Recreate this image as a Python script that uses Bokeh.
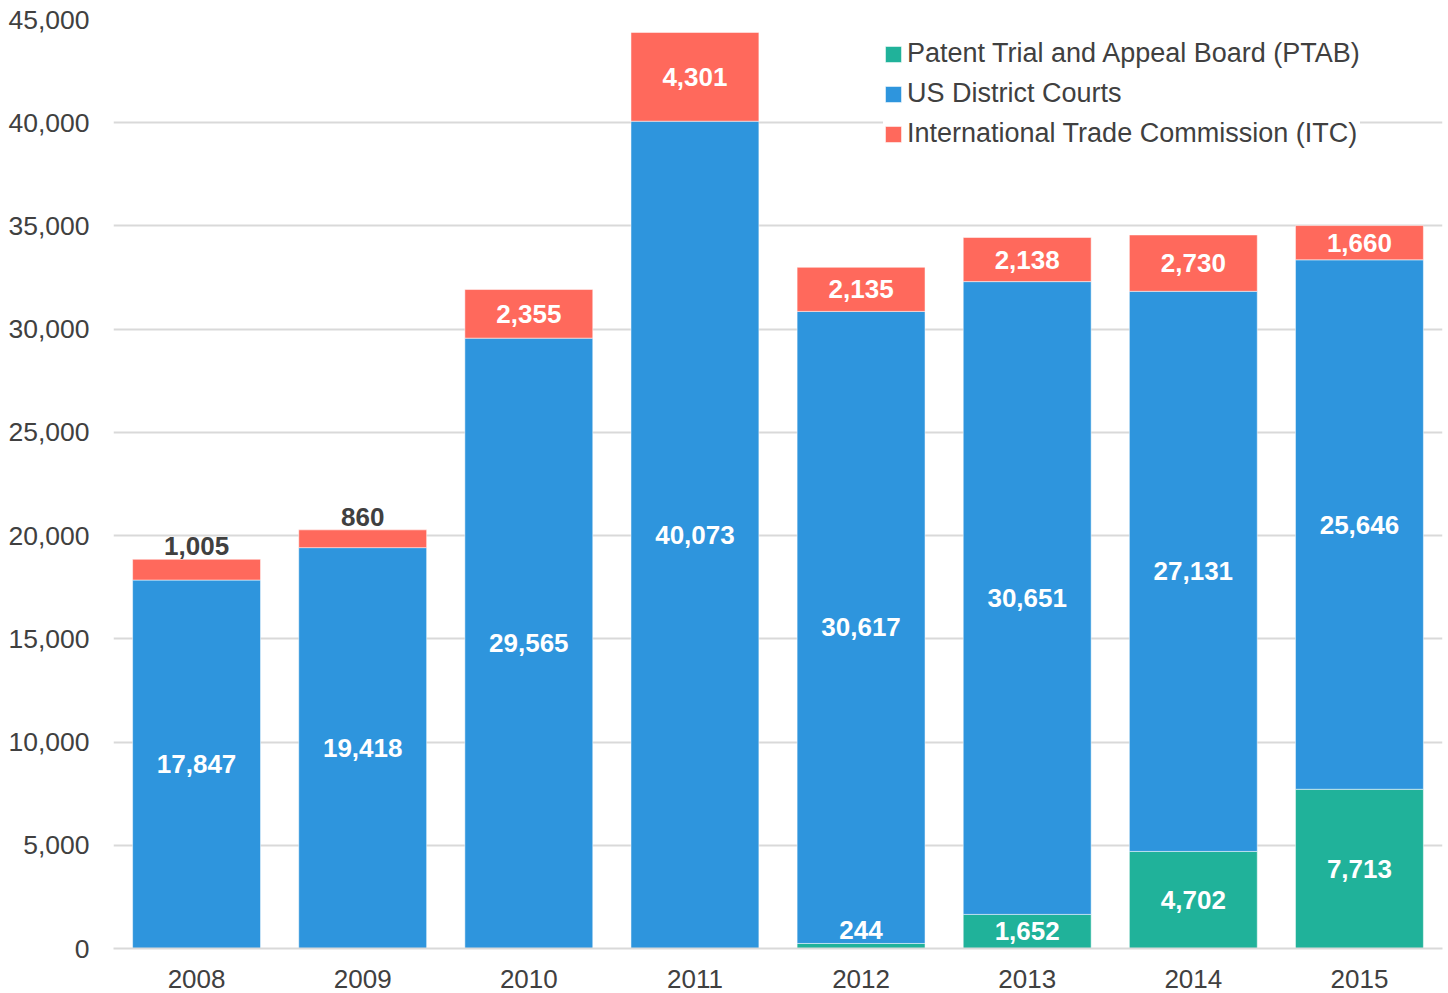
from bokeh.plotting import figure
from bokeh.models import (ColumnDataSource, FactorRange, Range1d, FixedTicker,
                          NumeralTickFormatter, Legend, LegendItem)
from bokeh.core.properties import value
from bokeh.embed import file_html
from bokeh.resources import INLINE

years = ["2008", "2009", "2010", "2011", "2012", "2013", "2014", "2015"]
ptab = [0, 0, 0, 0, 244, 1652, 4702, 7713]
district = [17847, 19418, 29565, 40073, 30617, 30651, 27131, 25646]
itc = [1005, 860, 2355, 4301, 2135, 2138, 2730, 1660]

series_names = ["Patent Trial and Appeal Board (PTAB)", "US District Courts",
                "International Trade Commission (ITC)"]
colors = ["#20B29A", "#2E95DD", "#FF695C"]
y_ticks = [0, 5000, 10000, 15000, 20000, 25000, 30000, 35000, 40000, 45000]

FONT = "Liberation Sans"
TEXT_DARK = "#404040"

src = ColumnDataSource(dict(year=years, ptab=ptab, district=district, itc=itc))

p = figure(x_range=FactorRange(*years, range_padding=0), y_range=Range1d(0, 45000),
           width=1448, height=993, output_backend="svg", toolbar_location=None,
           min_border_left=113, min_border_right=6, min_border_top=19,
           min_border_bottom=45)
p.outline_line_color = None
p.background_fill_color = "white"

rs = p.vbar_stack(["ptab", "district", "itc"], x="year", width=0.77, source=src,
                  color=colors, line_color="white", line_width=1, line_alpha=0.5)

# axes
p.yaxis.ticker = FixedTicker(ticks=y_ticks)
p.yaxis.formatter = NumeralTickFormatter(format="0,0")
p.yaxis.axis_line_color = None
p.yaxis.major_tick_line_color = None
p.yaxis.minor_tick_line_color = None
p.yaxis.major_label_standoff = 18
p.yaxis.major_label_text_font = FONT
p.yaxis.major_label_text_font_size = "26.5px"
p.yaxis.major_label_text_color = TEXT_DARK

p.xaxis.axis_line_color = "#D9D9D9"
p.xaxis.axis_line_width = 2
p.xaxis.major_tick_line_color = None
p.xaxis.minor_tick_line_color = None
p.xaxis.major_label_standoff = 15
p.xaxis.major_label_text_font = FONT
p.xaxis.major_label_text_font_size = "26px"
p.xaxis.major_label_text_color = TEXT_DARK

p.xgrid.grid_line_color = None
p.ygrid.grid_line_color = "#D9D9D9"
p.ygrid.grid_line_width = 2

# data labels
THRESH = 1500
in_x, in_y, in_t = [], [], []
above_x, above_y, above_t, above_c = [], [], [], []
for i, yr in enumerate(years):
    base = 0
    for k, vals in enumerate([ptab, district, itc]):
        v = vals[i]
        if v > 0:
            if v >= THRESH:
                in_x.append(yr); in_y.append(base + v / 2); in_t.append(f"{v:,}")
            else:
                above_x.append(yr); above_y.append(base + v); above_t.append(f"{v:,}")
                above_c.append("white" if k == 0 else TEXT_DARK)
        base += v

p.text(x=in_x, y=in_y, text=in_t, text_align="center", text_baseline="middle",
       text_font=value(FONT), text_font_style="bold", text_font_size="26px",
       text_color="white")
p.text(x=above_x, y=above_y, text=above_t, text_align="center", text_baseline="middle",
       y_offset=-13, text_font=value(FONT), text_font_style="bold",
       text_font_size="26px", text_color=above_c)

legend = Legend(items=[LegendItem(label=series_names[i], renderers=[rs[i]]) for i in range(3)],
                location=(770, 799), orientation="vertical",
                glyph_width=20, glyph_height=20, label_standoff=4,
                label_text_font=FONT, label_text_font_size="27px",
                label_text_color=TEXT_DARK, label_height=30, spacing=9,
                padding=8, margin=0, border_line_color=None,
                background_fill_color="white", background_fill_alpha=1.0)
p.add_layout(legend, "center")

open("out.html", "w").write(file_html(p, INLINE))
